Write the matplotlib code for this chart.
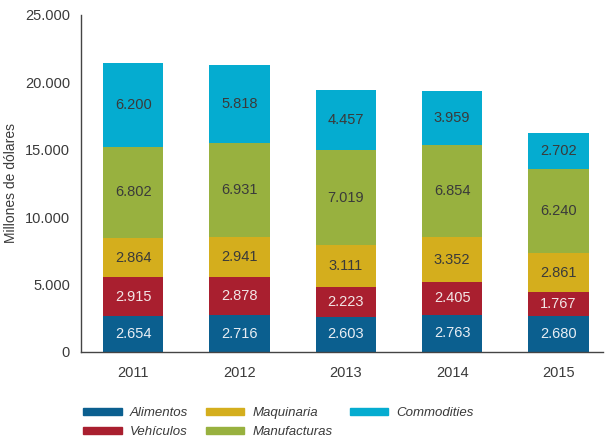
import numpy as np
import matplotlib.pyplot as plt
from matplotlib.patches import Patch

plt.rcParams['font.family'] = ['Liberation Sans', 'DejaVu Sans']

# Data
years = ['2011', '2012', '2013', '2014', '2015']
alimentos = [2654, 2716, 2603, 2763, 2680]
vehiculos = [2915, 2878, 2223, 2405, 1767]
maquinaria = [2864, 2941, 3111, 3352, 2861]
manufacturas = [6802, 6931, 7019, 6854, 6240]
commodities = [6200, 5818, 4457, 3959, 2702]

series = [
    ('Alimentos', alimentos, '#0b5f8f', '#e8eef4'),
    ('Vehículos', vehiculos, '#a91f2f', '#f2e6e6'),
    ('Maquinaria', maquinaria, '#d4ae1d', '#3a3a3a'),
    ('Manufacturas', manufacturas, '#98b13f', '#3a3a3a'),
    ('Commodities', commodities, '#05acd0', '#3a3a3a'),
]

def fmt(v):
    return f"{v:,}".replace(',', '.')

fig = plt.figure(figsize=(6.05, 4.41), dpi=100)
ax = fig.add_axes([0.134, 0.202, 0.863, 0.764])

x = np.arange(len(years))
bottom = np.zeros(len(years))
for name, vals, color, tcolor in series:
    vals = np.array(vals)
    ax.bar(x, vals, width=0.565, bottom=bottom, color=color, label=name)
    for xi, b, v in zip(x, bottom, vals):
        ax.text(xi, b + v / 2, fmt(int(v)), ha='center', va='center',
                fontsize=10.5, color=tcolor)
    bottom += vals

ax.set_xlim(-0.49, 4.42)
ax.set_ylim(0, 25000)
ax.set_yticks(range(0, 25001, 5000))
ax.set_yticklabels([fmt(v) for v in range(0, 25001, 5000)])
ax.set_xticks(x)
ax.set_xticklabels(years)
ax.tick_params(length=0, labelsize=10.5, colors='#3a3a3a')
ax.tick_params(axis='x', pad=10)
ax.tick_params(axis='y', pad=8)
ax.set_ylabel('Millones de dólares', fontsize=10, color='#3a3a3a', labelpad=5)
for s in ['top', 'right']:
    ax.spines[s].set_visible(False)
for s in ['left', 'bottom']:
    ax.spines[s].set_color('#444444')
    ax.spines[s].set_linewidth(1)

handles = [Patch(color=c) for _, _, c, _ in series]
labels = [n for n, _, _, _ in series]
leg = fig.legend(handles, labels, ncol=3, loc='upper left',
                 bbox_to_anchor=(0.118, 0.103), frameon=False,
                 handlelength=2.9, handleheight=0.45, columnspacing=1.3,
                 handletextpad=0.65, labelspacing=0.5,
                 prop={'style': 'italic', 'size': 9.5})
for t in leg.get_texts():
    t.set_color('#3a3a3a')

fig.savefig('out.png', dpi=100)
